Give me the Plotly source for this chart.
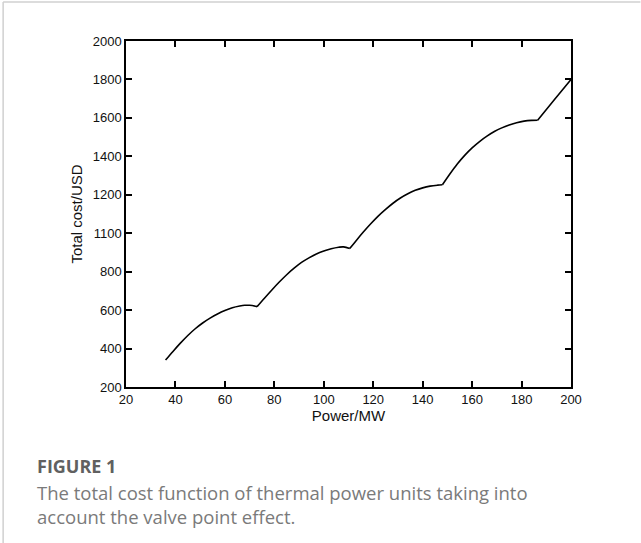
import plotly.graph_objects as go

# Data
power_mw = [36, 39, 42, 45, 48, 51, 54, 57, 60, 63, 66, 68, 70, 73,
            76, 79, 82, 85, 88, 91, 94, 97, 100, 103, 106, 108, 110.5,
            113, 116, 119, 122, 125, 128, 131, 134, 137, 140, 143, 146, 148,
            151, 154, 157, 160, 163, 166, 169, 172, 175, 178, 181, 184, 186.5,
            193, 200]
total_cost = [340, 385, 428, 468, 503, 533, 558, 580, 598, 612, 621, 625, 625, 618,
              662, 705, 746, 784, 818, 848, 872, 892, 907, 919, 927, 929, 920,
              960, 1006, 1049, 1089, 1124, 1156, 1183, 1205, 1223, 1236, 1245, 1250, 1252,
              1308, 1360, 1405, 1444, 1477, 1505, 1529, 1548, 1563, 1575, 1583, 1587, 1588,
              1690, 1800]
# valve points (cusps) where the curve changes from one arch to the next
valve_points = [73, 110.5, 148, 186.5]

x_ticks = [20, 40, 60, 80, 100, 120, 140, 160, 180, 200]
y_tick_vals = [200, 400, 600, 800, 1000, 1200, 1400, 1600, 1800, 2000]
y_tick_text = ["200", "400", "600", "800", "1100", "1200", "1400", "1600", "1800", "2000"]

fig = go.Figure()
# split into arches so each is smooth but cusps stay sharp
bounds = [power_mw[0]] + valve_points + [power_mw[-1]]
for a, b in zip(bounds[:-1], bounds[1:]):
    xs = [p for p in power_mw if a <= p <= b]
    ys = [c for p, c in zip(power_mw, total_cost) if a <= p <= b]
    fig.add_trace(go.Scatter(x=xs, y=ys, mode="lines", line_shape="spline",
                             line=dict(color="black", width=1.6, smoothing=1.0),
                             showlegend=False, hoverinfo="x+y"))

axis_font = dict(family="Liberation Sans, Arial, sans-serif", size=13, color="#111")
title_font = dict(family="Liberation Sans, Arial, sans-serif", size=15, color="#111")
fig.update_xaxes(range=[20, 200], tickvals=x_ticks, ticks="inside", ticklen=6, tickwidth=1.5,
                 tickcolor="black", showline=True, linewidth=1.5, linecolor="black",
                 mirror="ticks", showgrid=False, zeroline=False, tickfont=axis_font,
                 title=dict(text="Power/MW", font=title_font, standoff=1))
fig.update_yaxes(range=[200, 2000], tickvals=y_tick_vals, ticktext=y_tick_text, ticks="inside",
                 ticklen=6, tickwidth=1.5, tickcolor="black", showline=True, linewidth=1.5,
                 linecolor="black", mirror="ticks", showgrid=False, zeroline=False, tickfont=axis_font,
                 title=dict(text="Total cost/USD", font=title_font, standoff=6))

L, R, T, B = 126, 69.5, 41, 156
W, H = 641, 543
pw = W - L - R
ph = H - T - B

def px_x(px):
    return (px - L) / pw

def px_y(py):
    return (H - B - py) / ph

fig.update_layout(
    width=W, height=H, margin=dict(l=L, r=R, t=T, b=B, autoexpand=False),
    plot_bgcolor="white", paper_bgcolor="white",
    shapes=[
        dict(type="line", xref="paper", yref="paper", x0=px_x(3), x1=px_x(641), y0=px_y(2), y1=px_y(2),
             line=dict(color="#d0d0d0", width=1.5)),
        dict(type="line", xref="paper", yref="paper", x0=px_x(3), x1=px_x(3), y0=px_y(2), y1=px_y(543),
             line=dict(color="#d0d0d0", width=1.5)),
    ],
    annotations=[
        dict(text="<b>FIGURE 1</b>", xref="paper", yref="paper", x=px_x(35), y=px_y(466),
             xanchor="left", yanchor="middle", showarrow=False,
             font=dict(family="Open Sans, sans-serif", size=18, color="#606060")),
        dict(text="The total cost function of thermal power units taking into<br>account the valve point effect.",
             xref="paper", yref="paper", x=px_x(35), y=px_y(478), xanchor="left", yanchor="top",
             align="left", showarrow=False,
             font=dict(family="Open Sans, sans-serif", size=18.5, color="#7a7a7a")),
    ],
)

fig.write_html("out.html", config={"displayModeBar": False},
               post_script="document.body.style.margin='0';document.body.style.overflow='hidden';")
